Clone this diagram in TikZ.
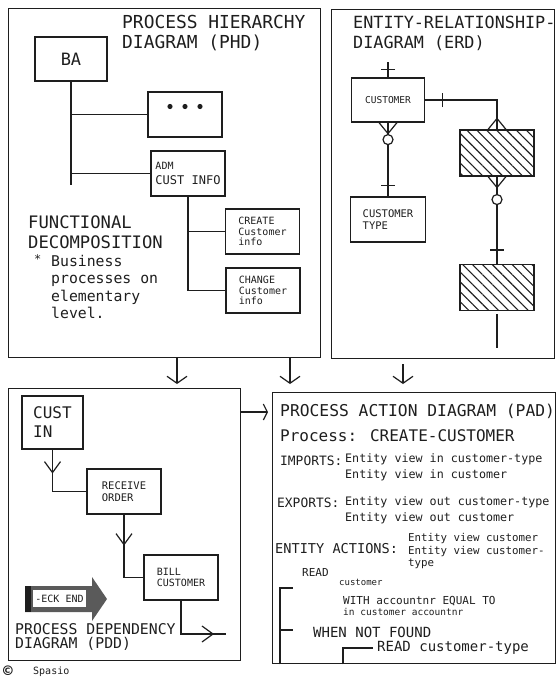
\documentclass[tikz,border=0pt]{standalone}
\usepackage{fontspec}
\newfontfamily\plotfont{DejaVu Sans Mono}
\usepackage{tikz}
\usetikzlibrary{arrows.meta,positioning,decorations.markings,patterns.meta}
\definecolor{mInk}{RGB}{30,30,30}
\definecolor{mShade}{RGB}{90,90,90}
\newcommand\pf[2]{\plotfont\fontsize{#1}{#2}\selectfont}
\tikzset{
panel/.style={rectangle,draw=mInk,line width=1.4pt,anchor=north west,inner sep=0pt},
box/.style={rectangle,draw=mInk,line width=1.2pt,minimum width=74pt,minimum height=45pt,align=left,inner sep=2pt,text=mInk},
hatched/.style={box,minimum height=46pt,pattern={Lines[angle=-45,distance=7pt,line width=1.1pt]},pattern color=mInk},
txt/.style={anchor=west,inner sep=0pt,align=left,text=mInk},
link/.style={draw=mInk,line width=1.2pt},
arrow/.style={-{Straight Barb[length=7pt,width=20pt]},line width=1.2pt,draw=mInk},
midarrow/.style={postaction={decorate},decoration={markings,mark=at position #1 with {\arrow{Straight Barb[length=11pt,width=16pt]}}}},
tickat/.style={postaction={decorate,decoration={markings,mark=at position #1 with {\draw (0pt,-7pt) -- (0pt,7pt);}}}},
ringat/.style={postaction={decorate,decoration={markings,mark=at position #1 with {\draw[fill=white] (0pt,0pt) circle (5pt);}}}},
crowstart/.style={postaction={decorate,decoration={markings,mark=at position 0 with {\draw (11pt,0pt) -- (0pt,9pt) (11pt,0pt) -- (0pt,-9pt);}}}},
crowend/.style={postaction={decorate,decoration={markings,mark=at position 1 with {\draw (-11pt,0pt) -- (0pt,9pt) (-11pt,0pt) -- (0pt,-9pt);}}}}
}
\begin{document}
\begin{tikzpicture}[x=1pt,y=-1pt]
\useasboundingbox (0,0) rectangle (556,683);
\node[panel,minimum width=312pt,minimum height=349pt] (phd) at (8,8) {};
\node[panel,minimum width=223pt,minimum height=349pt] (erd) at (331,9) {};
\node[panel,minimum width=232pt,minimum height=272pt] (pdd) at (8,388) {};
\node[panel,minimum width=283pt,minimum height=271pt] (pad) at (272,392) {};

\node[txt,font=\pf{17.9}{20}] (phdtitle) at (122,33) {PROCESS HIERARCHY\\DIAGRAM (PHD)};
\node[box,minimum width=72pt,minimum height=44pt,font=\pf{17}{19}] (ba) at (71,59) {BA};
\node[box] (dots) at (185,114.5) {};
\foreach \dx in {-15,0,15} \fill[mInk] ([shift={(\dx pt,8pt)}]dots.center) circle (2.6pt);
\node[box,font=\pf{12}{15}] (adm) at (188,173.5) {{\pf{10}{15}ADM}\\CUST INFO};
\node[box,font=\pf{10}{10.5}] (create) at (262.5,231.5) {CREATE\\Customer\\info};
\node[box,font=\pf{10}{10.5}] (change) at (263,290.5) {CHANGE\\Customer\\info};
\node[txt,font=\pf{17.2}{20}] (fdtitle) at (28,232) {FUNCTIONAL\\DECOMPOSITION};
\node[txt,font=\pf{12}{12}] (fdbul) at (34,259) {*};
\node[txt,font=\pf{14.8}{17.5}] (fdlist) at (51,287) {Business\\processes on\\elementary\\level.};
\coordinate (batrunk) at (71,185);
\draw[link] (ba.south) -- (batrunk);
\draw[link] (ba.south |- dots.west) -- (dots.west);
\draw[link] (ba.south |- adm.west) -- (adm.west);
\draw[link] (adm.south) |- (change.west);
\draw[link] (adm.south |- create.west) -- (create.west);

\node[txt,font=\pf{16.8}{20}] (erdtitle) at (353,33) {ENTITY-RELATIONSHIP-\\DIAGRAM (ERD)};
\node[box,minimum width=73pt,minimum height=44pt,font=\pf{9.5}{11}] (customer) at (388,100) {CUSTOMER};
\node[box,minimum width=75pt,font=\pf{10.5}{12}] (custtype) at (388,219.5) {CUSTOMER\\TYPE};
\node[hatched] (ent1) at (497,153) {};
\node[hatched] (ent2) at (497,287.5) {};
\coordinate (custplus) at (388,62);
\coordinate (ent2end) at (497,348);
\draw[link,tickat=8pt] (customer.north) -- (custplus);
\draw[link,tickat=17pt,crowend] (customer.east) -| (ent1.north);
\draw[link,crowstart,ringat=17pt,tickat=-11pt] (customer.south) -- (custtype.north);
\draw[link,crowstart,ringat=23pt,tickat=-14pt] (ent1.south) -- (ent2.north);
\draw[link,shorten <=3pt] (ent2.south) -- (ent2end);

\draw[arrow,shorten >=4pt] (phd.south -| 177,0) -- (pdd.north -| 177,0);
\draw[arrow,shorten >=8pt] (phd.south -| 290,0) -- (pad.north -| 290,0);
\draw[arrow,shorten <=5pt,shorten >=8pt] (erd.south -| 403,0) -- (pad.north -| 403,0);
\draw[link,-{Straight Barb[length=4pt,width=16pt]},shorten >=4pt] (pdd.east |- 0,412) -- (pad.west |- 0,412);

\node[box,minimum width=61pt,minimum height=53pt,font=\pf{16}{19}] (custin) at (52.5,422.5) {CUST\\IN};
\node[box,font=\pf{10.5}{12}] (recv) at (124,491.5) {RECEIVE\\ORDER};
\node[box,font=\pf{10}{11}] (bill) at (181,577.5) {BILL\\CUSTOMER};
\coordinate (pddout) at (226,634);
\draw[link,midarrow=24pt] (custin.south) |- (recv.west);
\draw[link,midarrow=31pt] (recv.south) |- (bill.west);
\draw[link,midarrow=-12pt] (bill.south) |- (pddout);
\fill[mShade] (25,586) -- (92,586) -- (92,577) -- (107,599) -- (92,621) -- (92,612) -- (25,612) -- cycle;
\fill[mInk] (25,586) rectangle (31,612);
\node[fill=white,minimum width=53pt,minimum height=17pt,inner sep=0pt,font=\pf{10}{11},text=mInk] (chkend) at (59.5,598.5) {-ECK END};
\node[txt,font=\pf{14.8}{14.5}] (pddtitle) at (15,637) {PROCESS DEPENDENCY\\DIAGRAM (PDD)};

\node[txt,font=\pf{16.3}{18}] (padtitle) at (280,411) {PROCESS ACTION DIAGRAM (PAD)};
\node[txt,font=\pf{16}{18}] (padproc) at (280,436) {Process: CREATE-CUSTOMER};
\node[txt,font=\pf{12.9}{14}] (imports) at (280,461) {IMPORTS:};
\node[txt,font=\pf{11.7}{16}] (impview) at (345,467) {Entity view in customer-type\\Entity view in customer};
\node[txt,font=\pf{12.9}{14}] (exports) at (277,503) {EXPORTS:};
\node[txt,font=\pf{11.7}{16}] (expview) at (345,510) {Entity view out customer-type\\Entity view out customer};
\node[txt,font=\pf{13.6}{15}] (actions) at (275,549) {ENTITY ACTIONS:};
\node[txt,font=\pf{10.8}{12.5}] (actview) at (408,551.5) {Entity view customer\\Entity view customer-\\type};
\node[txt,font=\pf{11}{12}] (readkw) at (302,572) {READ};
\node[txt,font=\pf{9}{9}] (readobj) at (339,582) {customer};
\node[txt,font=\pf{11}{11}] (withcl) at (343,601) {WITH accountnr EQUAL TO};
\node[txt,font=\pf{9.5}{10}] (incl) at (343,612) {in customer accountnr};
\node[txt,font=\pf{14}{15}] (notfound) at (313,632) {WHEN NOT FOUND};
\node[txt,font=\pf{14}{15}] (readtype) at (377,648) {READ customer-type};
\draw[link] (pad.south -| 280,0) |- (293,588);
\draw[link] (280,630) -- (293,630);
\draw[link] (pad.south -| 343,0) |- ([xshift=-4pt]readtype.west);

\node[txt,font=\pf{16}{16}\bfseries] (copy) at (3,671) {©};
\node[txt,font=\pf{10}{10}] (spasio) at (33,672) {Spasio};
\end{tikzpicture}
\end{document}
